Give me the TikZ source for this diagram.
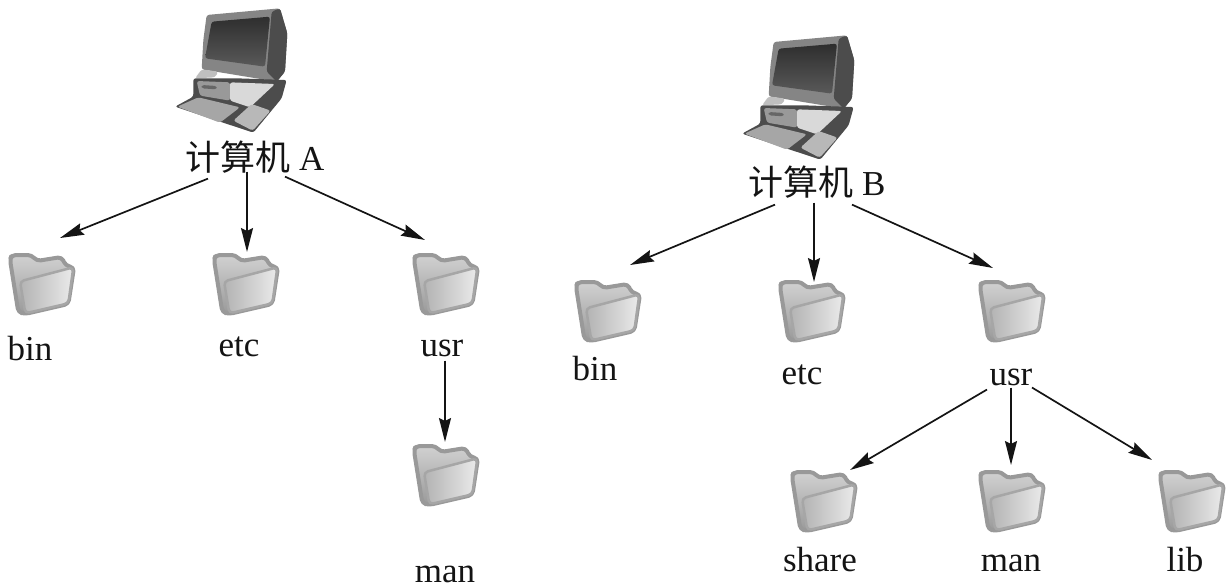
\documentclass[tikz,border=0pt]{standalone}
\usepackage{fontspec}
\setmainfont{Liberation Serif}
\newfontfamily\cjk{Noto Sans CJK SC}
\usetikzlibrary{arrows.meta,calc}
\definecolor{ink}{gray}{0.08}
\tikzset{
  x=1pt,y=-1pt,
  lab/.style={font=\fontsize{35}{35}\selectfont,text=ink,inner sep=0pt},
  anchorbox/.style={inner sep=0pt,minimum width=60pt,minimum height=60pt},
  arrow/.style={draw=ink,line width=1.7pt,-{Stealth[length=24pt,width=12pt,inset=3pt]}},
  folder/.pic={
    \begin{scope}[scale=1/3,shift={(-123,-138)},line join=round,rounded corners=4pt]
      \path[draw=black!40,line width=4pt,top color=black!18,bottom color=black!40]
        (30,62)--(35,48)--(95,48)--(110,66)--(185,54)--(197,80)--(222,85)--(205,195)--(75,225)--(55,220)--cycle;
      \path[draw=black!35,line width=2.5pt,left color=black!30,right color=black!8]
        (60,127)--(220,85)--(205,193)--(76,223)--cycle;
    \end{scope}
  },
  computer/.pic={
    \begin{scope}[scale=1/3,shift={(-180,-210)},line join=round,rounded corners=2.5pt]
      \fill[black!48] (110,45)--(330,25)--(352,100)--(345,215)--(320,245)--(95,208)--(100,120)--cycle;
      \fill[black!70] (305,35)--(330,25)--(352,100)--(345,215)--(320,245)--(290,215)--cycle;
      \shade[top color=black!82,bottom color=black!65] (125,65)--(300,50)--(285,200)--(105,175)--cycle;
      \fill[black!25] (95,208)--(145,215)--(135,232)--(75,235)--cycle;
      \fill[black!70] (70,235)--(200,235)--(350,240)--(335,295)--(250,398)--(15,320)--(70,290)--cycle;
      \fill[black!40] (80,243)--(180,247)--(180,302)--(90,287)--cycle;
      \fill[black!15] (180,247)--(315,252)--(240,322)--(180,302)--cycle;
      \fill[black!60] (95,255)--(140,258)--(140,268)--(95,265)--cycle;
      \fill[black!35] (22,320)--(85,292)--(210,322)--(150,368)--cycle;
      \fill[black!28] (190,362)--(245,312)--(302,332)--(248,392)--cycle;
    \end{scope}
  }
}
\begin{document}
\begin{tikzpicture}
\useasboundingbox[fill=white] (0,0) rectangle (1232,588);
% computers
\node[anchorbox] (pcA) at (230,70) {}; \pic at (pcA) {computer};
\node[anchorbox] (pcB) at (797,97) {}; \pic at (pcB) {computer};
\node[lab,anchor=base] (A) at (255,171) {{\cjk 计算机} A};
\node[lab,anchor=base] (B) at (817,196) {{\cjk 计算机} B};
% folders
\foreach \n/\x/\y in {fAbin/41/285,fAetc/245/285,fAusr/445/285,fAman/445/476,
  fBbin/607/312,fBetc/811/312,fBusr/1011/312,fBshare/823/502,fBman/1011/502,fBlib/1191/502}{
  \node[anchorbox] (\n) at (\x,\y) {};
  \pic at (\n) {folder};
}
% labels
\node[lab,anchor=base] (lAbin) at (30,360) {bin};
\node[lab,anchor=base] (lAetc) at (239,356) {etc};
\node[lab,anchor=base] (lAusr) at (442,356) {usr};
\node[lab,anchor=base] (lAman) at (445,582) {man};
\node[lab,anchor=base] (lBbin) at (595,380) {bin};
\node[lab,anchor=base] (lBetc) at (802,384) {etc};
\node[lab,anchor=base] (lBusr) at (1011,385) {usr};
\node[lab,anchor=base] (lBshare) at (820,571) {share};
\node[lab,anchor=base] (lBman) at (1011,571) {man};
\node[lab,anchor=base] (lBlib) at (1185,571) {lib};
% arrows
\draw[arrow] ([shift={(-47,21)}]A.center) -- ([shift={(19,-47)}]fAbin.center);
\draw[arrow] ([shift={(-8,14)}]A.center) -- ([shift={(2,-33)}]fAetc.center);
\draw[arrow] ([shift={(30,19)}]A.center) -- ([shift={(-20,-45)}]fAusr.center);
\draw[arrow] ([shift={(3,4)}]lAusr.south) -- ([shift={(0,-34)}]fAman.center);
\draw[arrow] ([shift={(-42,22)}]B.center) -- ([shift={(23,-47)}]fBbin.center);
\draw[arrow] ([shift={(-3,20)}]B.center) -- ([shift={(3,-30)}]fBetc.center);
\draw[arrow] ([shift={(35,22)}]B.center) -- ([shift={(-18,-44)}]fBusr.center);
\draw[arrow] ([shift={(-24,4)}]lBusr.south) -- ([shift={(27,-32)}]fBshare.center);
\draw[arrow] ([shift={(0,2)}]lBusr.south) -- ([shift={(0,-37)}]fBman.center);
\draw[arrow] ([shift={(21,2)}]lBusr.south) -- ([shift={(-39,-42)}]fBlib.center);
\end{tikzpicture}
\end{document}
